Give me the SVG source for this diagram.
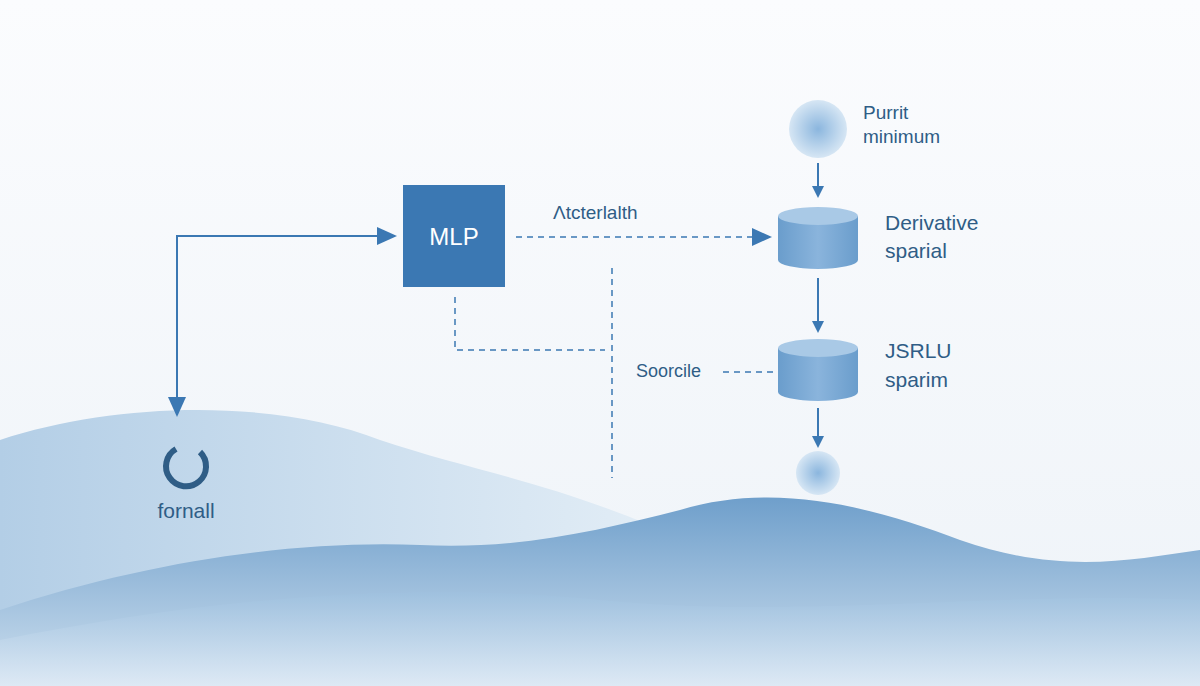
<svg xmlns="http://www.w3.org/2000/svg" width="1200" height="686" viewBox="0 0 1200 686">
<defs>
<linearGradient id="bg" x1="0" y1="0" x2="0" y2="1"><stop offset="0" stop-color="#fbfcfe"/><stop offset="1" stop-color="#eef3f8"/></linearGradient>
<linearGradient id="h1" x1="0" y1="0" x2="1" y2="0"><stop offset="0" stop-color="#b3cee6"/><stop offset="1" stop-color="#e2edf6"/></linearGradient>
<linearGradient id="h2" x1="0" y1="0" x2="0" y2="1"><stop offset="0" stop-color="#6f9fcb"/><stop offset="1" stop-color="#cfe0ef"/></linearGradient>
<linearGradient id="h3" x1="0" y1="0" x2="0" y2="1"><stop offset="0" stop-color="#9fc1df"/><stop offset="1" stop-color="#e3edf7"/></linearGradient>
<radialGradient id="ball"><stop offset="0" stop-color="#8bb6de"/><stop offset="1" stop-color="#d6e6f4"/></radialGradient>
<linearGradient id="cyl" x1="0" y1="0" x2="1" y2="0"><stop offset="0" stop-color="#6a9dcc"/><stop offset="0.5" stop-color="#8ab4dc"/><stop offset="1" stop-color="#6a9dcc"/></linearGradient>
<marker id="ah" markerWidth="12" markerHeight="12" refX="10" refY="6" orient="auto" markerUnits="userSpaceOnUse" viewBox="0 0 12 12"><path d="M0,0 L12,6 L0,12 z" fill="#3b78b3"/></marker>
<marker id="ahb" markerWidth="20" markerHeight="18" refX="18" refY="9" orient="auto" markerUnits="userSpaceOnUse" viewBox="0 0 20 18"><path d="M0,0 L20,9 L0,18 z" fill="#3b78b3"/></marker>
</defs>
<style>
.t{font-family:"Liberation Sans",Arial,sans-serif;fill:#2f5d86}
.s{stroke:#3b78b3;stroke-width:2;fill:none}
.d{stroke:#3b78b3;stroke-width:1.5;fill:none;stroke-dasharray:6 5}
</style>
<rect width="1200" height="686" fill="url(#bg)"/>
<path d="M0,440 C120,400 280,400 380,440 C470,470 540,480 650,525 L650,686 L0,686 z" fill="url(#h1)"/>
<path d="M0,610 C150,560 300,540 420,545 C520,550 600,530 680,510 C780,480 880,510 960,540 C1060,575 1130,560 1200,550 L1200,686 L0,686 z" fill="url(#h2)"/>
<path d="M0,640 C200,600 400,580 600,600 C800,620 1000,590 1200,600 L1200,686 L0,686 z" fill="url(#h3)" opacity="0.7"/>
<g id="connectors">
<path class="s" d="M177,236 L395,236" marker-end="url(#ahb)"/>
<path class="s" d="M177,235 L177,415" marker-end="url(#ahb)"/>
<path class="d" d="M516,237 L770,237" marker-end="url(#ahb)"/>
<path class="d" d="M455,297 L455,350 L605,350"/>
<path class="d" d="M612,268 L612,478"/>
<path class="d" d="M723,372 L778,372"/>
<path class="s" d="M818,163 L818,196" marker-end="url(#ah)"/>
<path class="s" d="M818,278 L818,331" marker-end="url(#ah)"/>
<path class="s" d="M818,408 L818,446" marker-end="url(#ah)"/>
</g>
<g id="mlp"><rect x="403" y="185" width="102" height="102" fill="#3b78b3"/><text class="t" x="454" y="245" font-size="24" text-anchor="middle" style="fill:#fff">MLP</text></g>
<g id="label-act"><text class="t" x="553" y="219" font-size="19">Λtcterlalth</text></g>
<g id="purrit"><circle cx="818" cy="129" r="29" fill="url(#ball)"/><text class="t" x="863" y="119" font-size="19">Purrit</text><text class="t" x="863" y="143" font-size="19">minimum</text></g>
<g id="derivative"><path d="M778,216 L778,260 A40,9 0 0 0 858,260 L858,216 z" fill="url(#cyl)"/><ellipse cx="818" cy="216" rx="40" ry="9" fill="#a9c9e6"/><text class="t" x="885" y="230" font-size="21">Derivative</text><text class="t" x="885" y="258" font-size="21">sparial</text></g>
<g id="jsrlu"><path d="M778,348 L778,392 A40,9 0 0 0 858,392 L858,348 z" fill="url(#cyl)"/><ellipse cx="818" cy="348" rx="40" ry="9" fill="#a9c9e6"/><text class="t" x="885" y="358" font-size="21">JSRLU</text><text class="t" x="885" y="387" font-size="21">sparim</text></g>
<g id="soorcile"><text class="t" x="636" y="377" font-size="18">Soorcile</text></g>
<g id="ball2"><circle cx="818" cy="473" r="22" fill="url(#ball)"/></g>
<g id="fornall"><path d="M176,449 A20,20 0 1 0 200,452" stroke="#2f5d86" stroke-width="6" fill="none"/><text class="t" x="186" y="518" font-size="21" text-anchor="middle">fornall</text></g>
</svg>
